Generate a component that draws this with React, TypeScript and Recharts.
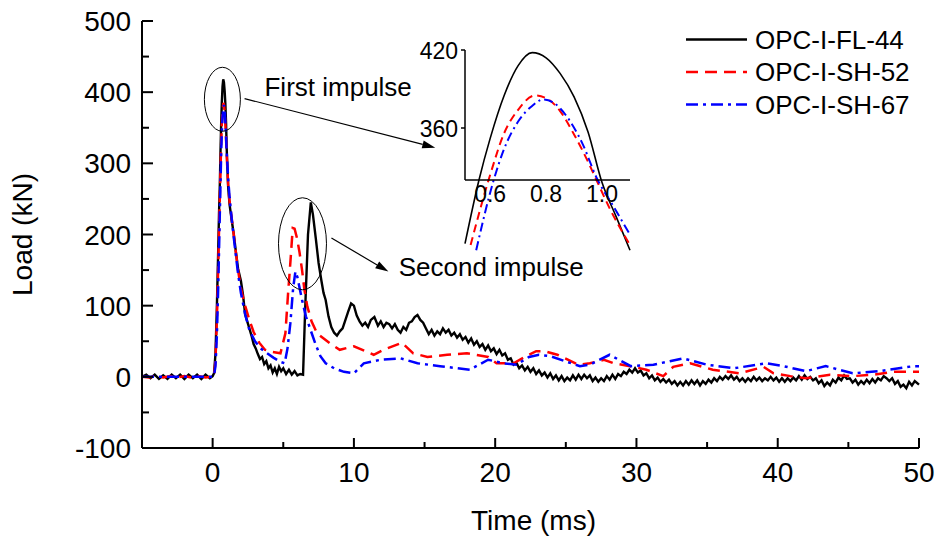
import React from 'react';
import { LineChart, Line, XAxis, YAxis, Legend, ReferenceDot, ReferenceLine } from 'recharts';

const FONT = '"Liberation Sans", Arial, Helvetica, sans-serif';

// time (ms), load (kN)
const fl44: [number, number][] = [
  [-5, 0], [-4.7, 3], [-4.4, -2], [-4.1, 3], [-3.8, -3], [-3.5, 2], [-3.2, -3], [-2.9, 3], [-2.6, -2], [-2.3, 3],
  [-2, -3], [-1.7, 3], [-1.4, -2], [-1.1, 3], [-0.8, -3], [-0.5, 3], [-0.2, -2], [0, 1], [0.1, 5], [0.2, 32],
  [0.3, 98], [0.4, 182], [0.45, 228], [0.51, 271], [0.56, 320], [0.6, 352], [0.65, 385], [0.7, 408], [0.75, 418],
  [0.8, 414], [0.85, 402], [0.9, 384], [0.95, 357], [1.0, 318], [1.05, 292], [1.1, 266], [1.2, 242], [1.35, 220],
  [1.5, 200], [1.65, 175], [1.8, 152], [2, 135], [2.15, 115], [2.3, 88], [2.45, 78], [2.6, 68], [2.75, 58],
  [2.9, 46], [3.05, 40], [3.2, 32], [3.35, 25], [3.5, 28], [3.65, 18], [3.8, 22], [3.95, 12], [4.1, 16], [4.25, 6],
  [4.4, 12], [4.55, 4], [4.7, 14], [4.85, 8], [5, 12], [5.2, 4], [5.4, 10], [5.6, 3], [5.8, 8], [6, 2], [6.2, 4],
  [6.4, 3], [6.55, 95], [6.75, 200], [6.95, 245], [7.1, 228], [7.3, 195], [7.5, 160], [7.7, 135], [7.85, 118],
  [8, 108], [8.2, 85], [8.4, 70], [8.6, 62], [8.8, 58], [9, 64], [9.2, 68], [9.4, 80], [9.6, 92], [9.8, 103],
  [10, 100], [10.2, 86], [10.4, 78], [10.6, 72], [10.8, 76], [11, 70], [11.2, 80], [11.45, 84], [11.7, 72],
  [11.9, 78], [12.1, 70], [12.3, 76], [12.5, 74], [12.7, 68], [12.9, 74], [13.1, 66], [13.3, 62], [13.5, 70],
  [13.7, 66], [13.9, 76], [14.1, 78], [14.3, 84], [14.5, 87], [14.7, 80], [14.9, 76], [15.1, 68], [15.3, 60],
  [15.5, 66], [15.7, 58], [15.9, 64], [16.1, 60], [16.3, 68], [16.5, 62], [16.7, 66], [16.9, 58], [17.1, 62],
  [17.3, 55], [17.5, 60], [17.7, 52], [17.9, 56], [18.1, 48], [18.3, 54], [18.5, 45], [18.7, 50], [18.9, 42],
  [19.1, 46], [19.3, 38], [19.5, 44], [19.7, 36], [19.9, 40], [20.1, 32], [20.3, 38], [20.5, 30], [20.7, 33],
  [20.9, 24], [21.1, 26], [21.3, 17], [21.5, 20], [21.7, 12], [21.9, 16], [22.1, 9], [22.3, 14], [22.5, 7],
  [22.7, 12], [22.9, 4], [23.1, 9], [23.3, 2], [23.5, 6], [23.7, -1], [23.9, 5], [24.1, -3], [24.3, 2], [24.5, -5],
  [24.7, 1], [24.9, -6], [25.1, -1], [25.3, -5], [25.5, 2], [25.7, -4], [25.9, 3], [26.1, -3], [26.3, 3], [26.5, -2],
  [26.7, 2], [26.9, -6], [27.1, -1], [27.3, -7], [27.5, -2], [27.7, -6], [27.9, 1], [28.1, -4], [28.3, 3], [28.5, -3],
  [28.7, 4], [28.9, 1], [29.1, 7], [29.3, 4], [29.5, 10], [29.7, 6], [29.9, 12], [30.1, 6], [30.3, 9], [30.5, 2],
  [30.7, 5], [30.9, -2], [31.1, 2], [31.3, -5], [31.5, -1], [31.7, -7], [31.9, -3], [32.1, -8], [32.3, -4],
  [32.5, -10], [32.7, -6], [32.9, -12], [33.1, -7], [33.3, -12], [33.5, -6], [33.7, -11], [33.9, -5], [34.1, -10],
  [34.3, -5], [34.5, -12], [34.7, -6], [34.9, -10], [35.1, -4], [35.3, -8], [35.5, -2], [35.7, -6], [35.9, 0],
  [36.1, -4], [36.3, 1], [36.5, -3], [36.7, 2], [36.9, -4], [37.1, 0], [37.3, -6], [37.5, -2], [37.7, -7],
  [37.9, -2], [38.1, -6], [38.3, 0], [38.5, -5], [38.7, -1], [38.9, -6], [39.1, -2], [39.3, -5], [39.5, 0],
  [39.7, -5], [39.9, -1], [40.1, -7], [40.3, -2], [40.5, -7], [40.7, -2], [40.9, -6], [41.1, -1], [41.3, -5],
  [41.5, 1], [41.7, -4], [41.9, 2], [42.1, -3], [42.3, 0], [42.5, -5], [42.7, -2], [42.9, -9], [43.1, -5],
  [43.3, -13], [43.5, -8], [43.7, -12], [43.9, -4], [44.1, -8], [44.3, -1], [44.5, -5], [44.7, 2], [44.9, -3],
  [45.1, -2], [45.3, -8], [45.5, -4], [45.7, -11], [45.9, -6], [46.1, -10], [46.3, -4], [46.5, -9], [46.7, -3],
  [46.9, -8], [47.1, -2], [47.3, -5], [47.5, 1], [47.7, -2], [47.9, -6], [48.1, -2], [48.3, -10], [48.5, -6],
  [48.7, -14], [48.9, -11], [49.1, -16], [49.3, -7], [49.5, -12], [49.7, -6], [50, -11],
];

const sh52: [number, number][] = [
  [-5, 0], [-4.5, -1], [-4, 1], [-3.5, -1], [-3, 1], [-2.5, -1], [-2, 1], [-1.5, -1], [-1, 1], [-0.5, -1], [0, 0],
  [0.1, 3], [0.2, 22], [0.3, 80], [0.4, 160], [0.45, 205], [0.53, 270], [0.6, 324], [0.65, 356], [0.7, 374],
  [0.76, 385], [0.8, 383], [0.85, 373], [0.9, 355], [0.95, 334], [0.98, 320], [1.03, 297], [1.1, 270], [1.2, 246],
  [1.4, 215], [1.6, 182], [1.8, 150], [2, 124], [2.3, 100], [2.6, 80], [2.9, 63], [3.3, 48], [3.7, 38], [4.2, 35],
  [4.8, 33], [5.15, 61], [5.35, 120], [5.5, 160], [5.67, 209], [5.8, 208], [5.97, 195], [6.15, 175], [6.33, 150],
  [6.5, 122], [6.7, 99], [7, 78], [7.4, 61], [8.3, 47], [9, 38], [10, 43], [11.4, 31], [12.1, 38], [13.4, 48],
  [14.2, 33], [15.2, 28], [16.6, 31], [18, 33], [19.5, 28], [20.1, 19], [21.3, 19], [22.2, 29], [22.9, 36],
  [23.5, 36], [24.4, 31], [25.9, 17], [26.7, 19], [27.7, 24], [28.4, 19], [29.8, 14], [30.7, 10], [31.9, 1],
  [32.6, 14], [33.8, 19], [35.4, 10], [37.3, 5], [39, 14], [39.7, 5], [40.9, 1], [42, -2], [43.7, 3], [45.3, 1],
  [46.8, 3], [48.2, 7], [50, 7],
];

const sh67: [number, number][] = [
  [-5, 0], [-4, 0], [-3, 0], [-2, 0], [-1, 0], [0, 0], [0.1, 2], [0.2, 15], [0.3, 58], [0.4, 130], [0.45, 175],
  [0.5, 222], [0.55, 266], [0.61, 318], [0.65, 344], [0.7, 365], [0.75, 377], [0.79, 382], [0.83, 379], [0.87, 370],
  [0.93, 348], [0.98, 322], [1.04, 300], [1.1, 278], [1.2, 252], [1.4, 212], [1.6, 178], [1.8, 145], [2, 118],
  [2.3, 88], [2.6, 66], [3, 50], [3.4, 40], [3.8, 34], [4.3, 27], [4.8, 21], [5.1, 19], [5.3, 40], [5.5, 75],
  [5.7, 125], [5.86, 148], [6, 140], [6.33, 108], [6.6, 85], [6.93, 66], [7.3, 45], [7.63, 29], [8, 19], [8.6, 12],
  [9.3, 7], [10, 5], [10.7, 19], [11.9, 24], [13.3, 26], [14.5, 19], [16.1, 15], [18.2, 10], [19.5, 24], [20.6, 19],
  [21.5, 17], [22.4, 28], [23.1, 31], [23.9, 29], [26, 15], [26.7, 17], [28.1, 31], [29.6, 15], [31.2, 17],
  [33.3, 26], [35, 17], [36.9, 12], [39.2, 19], [40.4, 15], [42, 8], [43.4, 15], [45.3, 5], [47.2, 8], [49.6, 15],
  [50, 15],
];

const timeTicks = [0, 5, 10, 15, 20, 25, 30, 35, 40, 45, 50];
const loadTicks = [-100, -50, 0, 50, 100, 150, 200, 250, 300, 350, 400, 450, 500];
const insetTimeTicks = [0.6, 0.8, 1.0];
const insetLoadTicks = [360, 420];

const series = [
  { name: 'OPC-I-FL-44', color: '#000000', dash: undefined, insetDash: undefined, width: 2.4, data: fl44 },
  { name: 'OPC-I-SH-52', color: '#ff0000', dash: '12 7', insetDash: '8 5', width: 2.5, data: sh52 },
  { name: 'OPC-I-SH-67', color: '#0000ff', dash: '12 5 3 5', insetDash: '9 4 2 4', width: 2.5, data: sh67 },
];

const toRows = (pairs: [number, number][]) => pairs.map(([t, v]) => ({ t, v }));

const XTick = ({ x, y, payload }: any) => {
  const major = payload.value % 10 === 0;
  return (
    <g>
      <line x1={x} x2={x} y1={y} y2={y - (major ? 10 : 6)} stroke="#000" strokeWidth={2} />
      {major && (
        <text x={x} y={y + 34} textAnchor="middle" fontSize={28} fontFamily={FONT} fill="#000">
          {payload.value}
        </text>
      )}
    </g>
  );
};

const YTick = ({ x, y, payload }: any) => {
  const major = payload.value % 100 === 0;
  return (
    <g>
      <line x1={x} x2={x + (major ? 11 : 7)} y1={y} y2={y} stroke="#000" strokeWidth={2} />
      {major && (
        <text x={x - 11} y={y + 10} textAnchor="end" fontSize={28} fontFamily={FONT} fill="#000">
          {payload.value}
        </text>
      )}
    </g>
  );
};

const InsetXTick = ({ x, y, payload }: any) => (
  <text x={x} y={y + 22} textAnchor="middle" fontSize={23} fontFamily={FONT} fill="#000">
    {payload.value.toFixed(1)}
  </text>
);

const InsetYTick = ({ x, y, payload }: any) => (
  <g>
    <line x1={x - 4} x2={x} y1={y} y2={y} stroke="#000" strokeWidth={1.5} />
    <text x={x - 7} y={y + 8.5} textAnchor="end" fontSize={23} fontFamily={FONT} fill="#000">
      {payload.value}
    </text>
  </g>
);

const Arrow = ({ x1, y1, x2, y2 }: any) => {
  const a = Math.atan2(y2 - y1, x2 - x1);
  const len = 13;
  const half = 4;
  const bx = x2 - len * Math.cos(a);
  const by = y2 - len * Math.sin(a);
  const px = -Math.sin(a) * half;
  const py = Math.cos(a) * half;
  return (
    <g>
      <line x1={x1} y1={y1} x2={bx} y2={by} stroke="#000" strokeWidth={1.2} />
      <polygon points={`${x2},${y2} ${bx + px},${by + py} ${bx - px},${by - py}`} fill="#000" />
    </g>
  );
};

const ellipseShape = (rx: number, ry: number) => (p: any) => (
  <ellipse cx={p.cx} cy={p.cy} rx={rx} ry={ry} fill="none" stroke="#000" strokeWidth={1} />
);

const textShape = (label: string) => (p: any) => (
  <text x={p.cx} y={p.cy} fontSize={26} fontFamily={FONT} fill="#000">
    {label}
  </text>
);

const LegendBox = () => (
  <svg width={257} height={110} style={{ display: 'block' }}>
    {series.map((s, i) => {
      const y = 19.5 + i * 32.5;
      return (
        <g key={s.name}>
          <line x1={6} x2={67} y1={y} y2={y} stroke={s.color} strokeWidth={2.5} strokeDasharray={s.dash} />
          <text x={75} y={y + 9} fontSize={26} fontFamily={FONT} fill="#000">
            {s.name}
          </text>
        </g>
      );
    })}
  </svg>
);

export default function App() {
  return (
    <div style={{ position: 'absolute', left: 0, top: 0, width: 937, height: 541, background: '#fff', fontFamily: FONT }}>
      <style>{'.inset-chart [clip-path]{clip-path:none !important}'}</style>
      <LineChart width={937} height={541} margin={{ top: 21, right: 18, bottom: 33, left: 82 }}>
        <XAxis
          dataKey="t"
          type="number"
          domain={[-5, 50]}
          ticks={timeTicks}
          interval={0}
          tick={XTick}
          tickLine={false}
          tickSize={0}
          tickMargin={0}
          height={60}
          axisLine={{ stroke: '#000', strokeWidth: 2 }}
          label={{
            content: ({ viewBox }: any) => (
              <text
                x={viewBox.x + viewBox.width / 2 + 3}
                y={viewBox.y + 82}
                textAnchor="middle"
                fontSize={28}
                fontFamily={FONT}
                fill="#000"
              >
                Time (ms)
              </text>
            ),
          }}
        />
        <YAxis
          type="number"
          domain={[-100, 500]}
          ticks={loadTicks}
          interval={0}
          tick={YTick}
          tickLine={false}
          tickSize={0}
          tickMargin={0}
          width={60}
          axisLine={{ stroke: '#000', strokeWidth: 2 }}
          label={{
            content: ({ viewBox }: any) => {
              const cx = viewBox.x - 50;
              const cy = viewBox.y + viewBox.height / 2;
              return (
                <text
                  x={cx}
                  y={cy}
                  transform={`rotate(-90 ${cx} ${cy})`}
                  textAnchor="middle"
                  fontSize={28}
                  fontFamily={FONT}
                  fill="#000"
                >
                  Load (kN)
                </text>
              );
            },
          }}
        />
        {series.map((s) => (
          <Line
            key={s.name}
            data={toRows(s.data)}
            dataKey="v"
            name={s.name}
            type="linear"
            stroke={s.color}
            strokeWidth={s.width}
            strokeDasharray={s.dash}
            dot={false}
            activeDot={false}
            isAnimationActive={false}
          />
        ))}
        <ReferenceDot x={0.69} y={390} r={1} shape={ellipseShape(18, 32)} />
        <ReferenceDot x={6.36} y={187} r={1} shape={ellipseShape(24, 46)} />
        <ReferenceLine segment={[{ x: 2.26, y: 391 }, { x: 15.76, y: 322 }]} shape={Arrow} />
        <ReferenceLine segment={[{ x: 8.41, y: 195 }, { x: 12.44, y: 148 }]} shape={Arrow} />
        <ReferenceDot x={3.67} y={394} r={1} shape={textShape('First impulse')} />
        <ReferenceDot x={13.17} y={141} r={1} shape={textShape('Second impulse')} />
        <Legend
          layout="vertical"
          align="center"
          verticalAlign="middle"
          content={() => <LegendBox />}
          wrapperStyle={{ left: 680, top: 20, width: 257, height: 110 }}
        />
      </LineChart>

      <div className="inset-chart" style={{ position: 'absolute', left: 410, top: 25 }}>
        <LineChart width={230} height={230} margin={{ top: 25, right: 10, bottom: 0, left: 0 }}>
          <XAxis
            dataKey="t"
            type="number"
            domain={[0.51, 1.1]}
            allowDataOverflow
            ticks={insetTimeTicks}
            interval={0}
            tick={InsetXTick}
            tickLine={false}
            tickSize={0}
            tickMargin={0}
            height={75}
            axisLine={{ stroke: '#000', strokeWidth: 1.5 }}
          />
          <YAxis
            type="number"
            domain={[320, 420]}
            allowDataOverflow
            ticks={insetLoadTicks}
            interval={0}
            tick={InsetYTick}
            tickLine={false}
            tickSize={0}
            tickMargin={0}
            width={55}
            axisLine={{ stroke: '#000', strokeWidth: 1.5 }}
          />
          {series.map((s) => (
            <Line
              key={s.name}
              data={toRows(s.data.filter(([t]) => t >= 0.51 && t <= 1.1))}
              dataKey="v"
              type="monotone"
              stroke={s.color}
              strokeWidth={s.color === '#000000' ? 1.6 : 2}
              strokeDasharray={s.insetDash}
              dot={false}
              activeDot={false}
              isAnimationActive={false}
            />
          ))}
        </LineChart>
      </div>
    </div>
  );
}
